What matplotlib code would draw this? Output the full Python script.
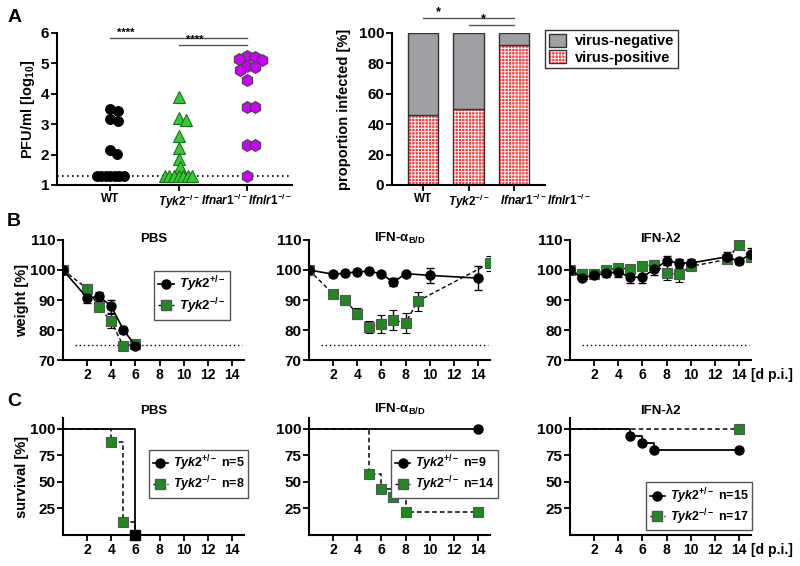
import numpy as np
import matplotlib
matplotlib.use('Agg')
import matplotlib.pyplot as plt
import matplotlib.transforms as mtransforms
from matplotlib.patches import Patch
from matplotlib.lines import Line2D
from matplotlib.legend_handler import HandlerTuple

plt.rcParams['font.family'] = ['Liberation Sans', 'DejaVu Sans']
plt.rcParams['font.weight'] = 'bold'
plt.rcParams['axes.labelweight'] = 'bold'
plt.rcParams['font.size'] = 10
plt.rcParams['mathtext.fontset'] = 'custom'
plt.rcParams['mathtext.rm'] = 'Liberation Sans:bold'
plt.rcParams['mathtext.it'] = 'Liberation Sans:italic:bold'
plt.rcParams['mathtext.bf'] = 'Liberation Sans:bold'
plt.rcParams['mathtext.sf'] = 'Liberation Sans:bold'
plt.rcParams['hatch.linewidth'] = 0.7

# ---- data: panel A ----
group_labels = ['WT', r'$\mathit{Tyk2}^{\mathit{-/-}}$',
                r'$\mathit{Ifnar1}^{\mathit{-/-}}\mathit{Ifnlr1}^{\mathit{-/-}}$']
lod = 1.3
pfu_wt = [3.49, 3.44, 3.16, 3.09, 2.15, 2.02, 1.3, 1.3, 1.3, 1.3, 1.3, 1.3, 1.3]
pfu_tyk2 = [3.91, 3.22, 3.14, 2.61, 2.23, 1.86, 1.60, 1.3, 1.3, 1.3, 1.3, 1.3, 1.3, 1.3]
pfu_ifnar = [5.23, 5.21, 5.15, 5.10, 4.92, 4.87, 4.77, 4.45, 3.56, 3.56, 2.30, 2.30, 1.3]

# ---- data: panel B (weight, mean +/- SEM) ----
pbs_het_days = [0, 2, 3, 4, 5, 6]
pbs_het = [100, 90.7, 91.2, 87.9, 80.1, 74.7]
pbs_het_err = [0, 1.6, 1.6, 2.1, 1.0, 0.6]
pbs_ko_days = [0, 2, 3, 4, 5, 6]
pbs_ko = [100, 93.8, 87.6, 82.9, 74.6, 75.4]
pbs_ko_err = [0, 1.5, 1.2, 2.4, 0.6, 0.6]

ifna_het_days = [0, 2, 3, 4, 5, 6, 7, 8, 10, 14]
ifna_het = [100, 98.6, 98.9, 99.4, 99.6, 98.7, 95.9, 98.8, 98.2, 97.3]
ifna_het_err = [0, 0.8, 0.5, 0.5, 0.5, 0.5, 1.3, 0.5, 2.6, 3.9]
ifna_ko_days = [0, 2, 3, 4, 5, 6, 7, 8, 9, 15]
ifna_ko = [100, 92.0, 89.9, 85.4, 81.0, 82.0, 83.3, 82.3, 89.6, 102.3]
ifna_ko_err = [0, 1.0, 1.5, 1.8, 2.0, 2.9, 3.2, 3.3, 3.2, 2.5]

l2_days = [0, 1, 2, 3, 4, 5, 6, 7, 8, 9, 10, 13, 14, 15]
l2_het = [100, 97.4, 98.3, 98.9, 99.4, 97.5, 97.7, 100.2, 103.1, 102.3, 102.3, 104.4, 102.9, 105.4]
l2_het_err = [0, 0.8, 0.8, 1.2, 1.8, 2.0, 2.2, 2.0, 1.5, 1.5, 1.2, 1.5, 1.0, 2.0]
l2_ko = [100, 98.6, 98.6, 100.1, 100.6, 100.4, 101.2, 101.8, 99.0, 98.6, 101.2, 103.5, 108.3, 104.3]
l2_ko_err = [0, 0.8, 0.6, 0.8, 1.2, 0.8, 1.5, 1.5, 2.5, 2.5, 1.0, 1.2, 1.0, 1.5]

# ---- data: panel C (survival) ----
pbs_surv_het_days = [0, 6]
pbs_surv_het = [100, 0]
pbs_surv_ko_days = [0, 4, 5, 6]
pbs_surv_ko = [100, 87.5, 12.5, 0]
ifna_surv_het_days = [0, 14]
ifna_surv_het = [100, 100]
ifna_surv_ko_days = [0, 5, 6, 7, 8, 14]
ifna_surv_ko = [100, 57.1, 42.9, 35.7, 21.4, 21.4]
l2_surv_het_days = [0, 5, 6, 7, 14]
l2_surv_het = [100, 93.3, 86.7, 80, 80]
l2_surv_ko_days = [0, 14]
l2_surv_ko = [100, 100]
n_het = [5, 9, 15]
n_ko = [8, 14, 17]

GREEN = '#1f8a1f'
TRI_GREEN = '#33cc33'
PURPLE = '#cc00ff'
RED = '#ff3535'
GREY = '#a0a0a4'


def swarm_offsets(values, px_x, px_y, d_px=8.0, lod_step=4.6):
    vals = np.asarray(values, float)
    offs = np.zeros(len(vals))
    low = np.where(vals <= lod)[0]
    offs[low] = (np.arange(len(low)) - (len(low) - 1) / 2) * lod_step
    placed = []
    for i in np.argsort(-vals, kind='stable'):
        if vals[i] <= lod:
            continue
        y = vals[i] * px_y
        cands = [0.0]
        for px, py in placed:
            dy = abs(y - py)
            if dy < d_px:
                dx = np.sqrt(d_px ** 2 - dy ** 2)
                cands += [px + dx, px - dx]
        cands.sort(key=abs)
        for c in cands:
            if all((c - px) ** 2 + (y - py) ** 2 >= d_px ** 2 - 1e-6 for px, py in placed):
                break
        placed.append((c, y))
        offs[i] = c
    return offs / px_x


def style_axes(ax):
    for s in ['top', 'right']:
        ax.spines[s].set_visible(False)
    for s in ['left', 'bottom']:
        ax.spines[s].set_linewidth(1.5)
    ax.tick_params(direction='out', length=4, width=1.3, pad=1.5)
    ax.tick_params(axis='y', labelsize=11)
    ax.tick_params(axis='x', labelsize=10)


fig = plt.figure(figsize=(8, 5.66), dpi=100)
W, H = 800.0, 566.0


def add_ax(x0, y0, x1, y1):
    return fig.add_axes([x0 / W, 1 - y1 / H, (x1 - x0) / W, (y1 - y0) / H])


# ---------- A: scatter ----------
axA = add_ax(57, 33, 292, 185)
style_axes(axA)
px_x, px_y = 68.5, 30.4
for k, (vals, mk, fc, ec, ms) in enumerate([
        (pfu_wt, 'o', 'black', 'black', 7),
        (pfu_tyk2, '^', TRI_GREEN, '#1d6e1d', 8.5),
        (pfu_ifnar, 'h', PURPLE, '#444444', 8.5)]):
    xs = k + swarm_offsets(vals, px_x, px_y)
    axA.plot(xs, vals, mk, ms=ms, mfc=fc, mec=ec, mew=0.8, ls='none', zorder=3)
axA.axhline(lod, color='black', ls=(0, (1, 2)), lw=1.2, zorder=1)
axA.set_xlim(-0.78, 2.66)
axA.set_ylim(1, 6)
axA.set_yticks([1, 2, 3, 4, 5, 6])
axA.set_xticks([0, 1, 2])
axA.set_xticklabels(group_labels, fontsize=8.5)
axA.set_ylabel(r'PFU/ml [log$_{10}$]', fontsize=10.5)
axA.yaxis.set_label_coords(-0.085, 0.5)
for (a, b, y) in [(0, 2, 5.85), (1, 2, 5.6)]:
    axA.plot([a, b], [y, y], color='#555555', lw=1)
    axA.text(a + 0.23, y, '****', fontsize=8, ha='center', va='bottom')

# ---------- A: stacked bars ----------
axP = add_ax(392, 33, 545, 185)
style_axes(axP)
groups = [pfu_wt, pfu_tyk2, pfu_ifnar]
pos_pct = np.array([100.0 * np.mean(np.array(g) > lod) for g in groups])
neg_pct = 100 - pos_pct
xb = np.arange(3)
bw = 0.66
axP.bar(xb, pos_pct, bw, color=RED, hatch='+++++', edgecolor='white', lw=0)
axP.bar(xb, pos_pct, bw, fill=False, edgecolor='#333333', lw=1)
axP.bar(xb, neg_pct, bw, bottom=pos_pct, color=GREY, edgecolor='#333333', lw=1)
axP.set_xlim(-0.68, 2.68)
axP.set_ylim(0, 100)
axP.set_yticks(range(0, 101, 20))
axP.set_xticks(xb)
axP.set_xticklabels(group_labels, fontsize=8.5)
last = axP.get_xticklabels()[-1]
last.set_horizontalalignment('left')
last.set_transform(last.get_transform() +
                   mtransforms.ScaledTranslation(-0.14, 0, fig.dpi_scale_trans))
axP.set_ylabel('proportion infected [%]', fontsize=10.5)
axP.yaxis.set_label_coords(-0.265, 0.5)
for (a, b, y) in [(0, 2, 110), (1, 2, 105.3)]:
    axP.plot([a, b], [y, y], color='#555555', lw=1, clip_on=False)
    axP.text(a + 0.33, y, '*', fontsize=9, ha='center', va='bottom')
h_neg = Patch(facecolor=GREY, edgecolor='#333333', lw=1)
h_pos = (Patch(facecolor=RED, hatch='+++++', edgecolor='white', lw=0),
         Patch(fill=False, edgecolor='#333333', lw=1))
axP.legend([h_neg, h_pos], ['virus-negative', 'virus-positive'],
           handler_map={tuple: HandlerTuple(ndivide=1, pad=0)},
           loc='upper left', bbox_to_anchor=(1.0, 1.02), fontsize=10.5,
           frameon=True, fancybox=False, edgecolor='#333333', framealpha=1,
           handlelength=1.2, handleheight=1.0, handletextpad=0.6,
           borderpad=0.25, labelspacing=0.15, borderaxespad=0)

fig.text(8 / W, 1 - 17 / H, 'A', fontsize=14, fontweight='bold', va='center')
fig.text(7 / W, 1 - 222 / H, 'B', fontsize=14, fontweight='bold', va='center')
fig.text(7 / W, 1 - 401 / H, 'C', fontsize=14, fontweight='bold', va='center')

lefts = [63, 309, 570]
titles = ['PBS', r'IFN-α$_{\mathregular{B/D}}$', 'IFN-λ2']
het_lbl = r'$\mathit{Tyk2}^{\mathit{+/-}}$'
ko_lbl = r'$\mathit{Tyk2}^{\mathit{-/-}}$'

# ---------- B: weight ----------
weight_sets = [
    (pbs_het_days, pbs_het, pbs_het_err, pbs_ko_days, pbs_ko, pbs_ko_err),
    (ifna_het_days, ifna_het, ifna_het_err, ifna_ko_days, ifna_ko, ifna_ko_err),
    (l2_days, l2_het, l2_het_err, l2_days, l2_ko, l2_ko_err),
]
for i, (hd, hv, he, kd, kv, ke) in enumerate(weight_sets):
    ax = add_ax(lefts[i], 240, lefts[i] + 181, 360)
    style_axes(ax)
    ax.errorbar(kd, kv, yerr=ke, fmt='s', ls=(0, (3, 2)), color='black', lw=1,
                ms=6.5, mfc=GREEN, mec='#555555', mew=0.8, ecolor='black',
                elinewidth=1, capsize=3, capthick=1, zorder=3)
    ax.errorbar(hd, hv, yerr=he, fmt='o', ls='-', color='black', lw=1.2,
                ms=6.5, mfc='black', mec='black', ecolor='black',
                elinewidth=1, capsize=3, capthick=1, zorder=3)
    ax.hlines(75, 1.0, 14.8, color='black', ls=(0, (1, 2)), lw=1)
    ax.set_xlim(0, 15)
    ax.set_ylim(70, 110)
    ax.set_xticks(range(2, 15, 2))
    ax.set_yticks(range(70, 111, 10))
    ax.text(0.5, 0.983, titles[i], transform=ax.transAxes, ha='center',
            va='baseline', fontsize=9.5)
    if i == 0:
        ax.set_ylabel('weight [%]', fontsize=10.5)
        ax.yaxis.set_label_coords(-0.19, 0.5)
        hl = [Line2D([], [], color='black', marker='o', ms=6.5, lw=1.2),
              Line2D([], [], color='black', ls=(0, (3, 2)), marker='s', ms=6.5,
                     mfc=GREEN, mec='#555555', lw=1)]
        ax.legend(hl, [het_lbl, ko_lbl], loc='upper left',
                  bbox_to_anchor=(0.505, 0.745), fontsize=9.5, frameon=True,
                  fancybox=False, edgecolor='#555555', framealpha=1,
                  handlelength=1.2, handletextpad=0.4, borderpad=0.3,
                  labelspacing=0.15, borderaxespad=0)
    if i == 2:
        ax.annotate('[d p.i.]', xy=(15, 70), xycoords='data', xytext=(0, -5.5),
                    textcoords='offset points', ha='left', va='top', fontsize=10)

# ---------- C: survival ----------
surv_sets = [
    (pbs_surv_het_days, pbs_surv_het, pbs_surv_ko_days, pbs_surv_ko),
    (ifna_surv_het_days, ifna_surv_het, ifna_surv_ko_days, ifna_surv_ko),
    (l2_surv_het_days, l2_surv_het, l2_surv_ko_days, l2_surv_ko),
]
leg_anchor = [(0.475, 0.73), (0.455, 0.73), (0.42, 0.45)]
for i, (hd, hv, kd, kv) in enumerate(surv_sets):
    ax = add_ax(lefts[i], 418, lefts[i] + 181, 535)
    style_axes(ax)
    ax.plot(kd, kv, drawstyle='steps-post', color='black', ls=(0, (3, 2)), lw=1.1,
            zorder=2, clip_on=False)
    ax.plot(hd, hv, drawstyle='steps-post', color='black', lw=1.3, zorder=3,
            clip_on=False)
    if i == 0:
        ax.plot(kd[1:-1], kv[1:-1], 's', ms=6.5, mfc=GREEN, mec='#555555',
                mew=0.8, zorder=4, clip_on=False)
        ax.plot(kd[-1:], kv[-1:], 's', ms=6.5, color='black', zorder=4,
                clip_on=False)
    else:
        ax.plot(kd[1:], kv[1:], 's', ms=6.5, mfc=GREEN, mec='#555555',
                mew=0.8, zorder=4, clip_on=False)
        ax.plot(hd[1:], hv[1:], 'o', ms=6.5, color='black', zorder=5,
                clip_on=False)
    ax.set_xlim(0, 15)
    ax.set_ylim(0, 110)
    ax.set_xticks(range(2, 15, 2))
    ax.set_yticks([25, 50, 75, 100])
    ax.text(0.5, 1.01, titles[i], transform=ax.transAxes, ha='center',
            va='bottom', fontsize=9.5)
    if i == 0:
        ax.set_ylabel('survival [%]', fontsize=10.5)
        ax.yaxis.set_label_coords(-0.19, 0.5)
    hl = [Line2D([], [], color='black', marker='o', ms=6.5, lw=1.2),
          Line2D([], [], color='black', ls=(0, (3, 2)), marker='s', ms=6.5,
                 mfc=GREEN, mec='#555555', lw=1)]
    ax.legend(hl, [het_lbl + ' n=%d' % n_het[i], ko_lbl + ' n=%d' % n_ko[i]],
              loc='upper left', bbox_to_anchor=leg_anchor[i], fontsize=9,
              frameon=True, fancybox=False, edgecolor='#555555', framealpha=1,
              handlelength=1.2, handletextpad=0.4, borderpad=0.3,
              labelspacing=0.1, borderaxespad=0)
    if i == 2:
        ax.annotate('[d p.i.]', xy=(15, 0), xycoords='data', xytext=(0, -5.5),
                    textcoords='offset points', ha='left', va='top', fontsize=10)

fig.savefig('out.png', dpi=100)
